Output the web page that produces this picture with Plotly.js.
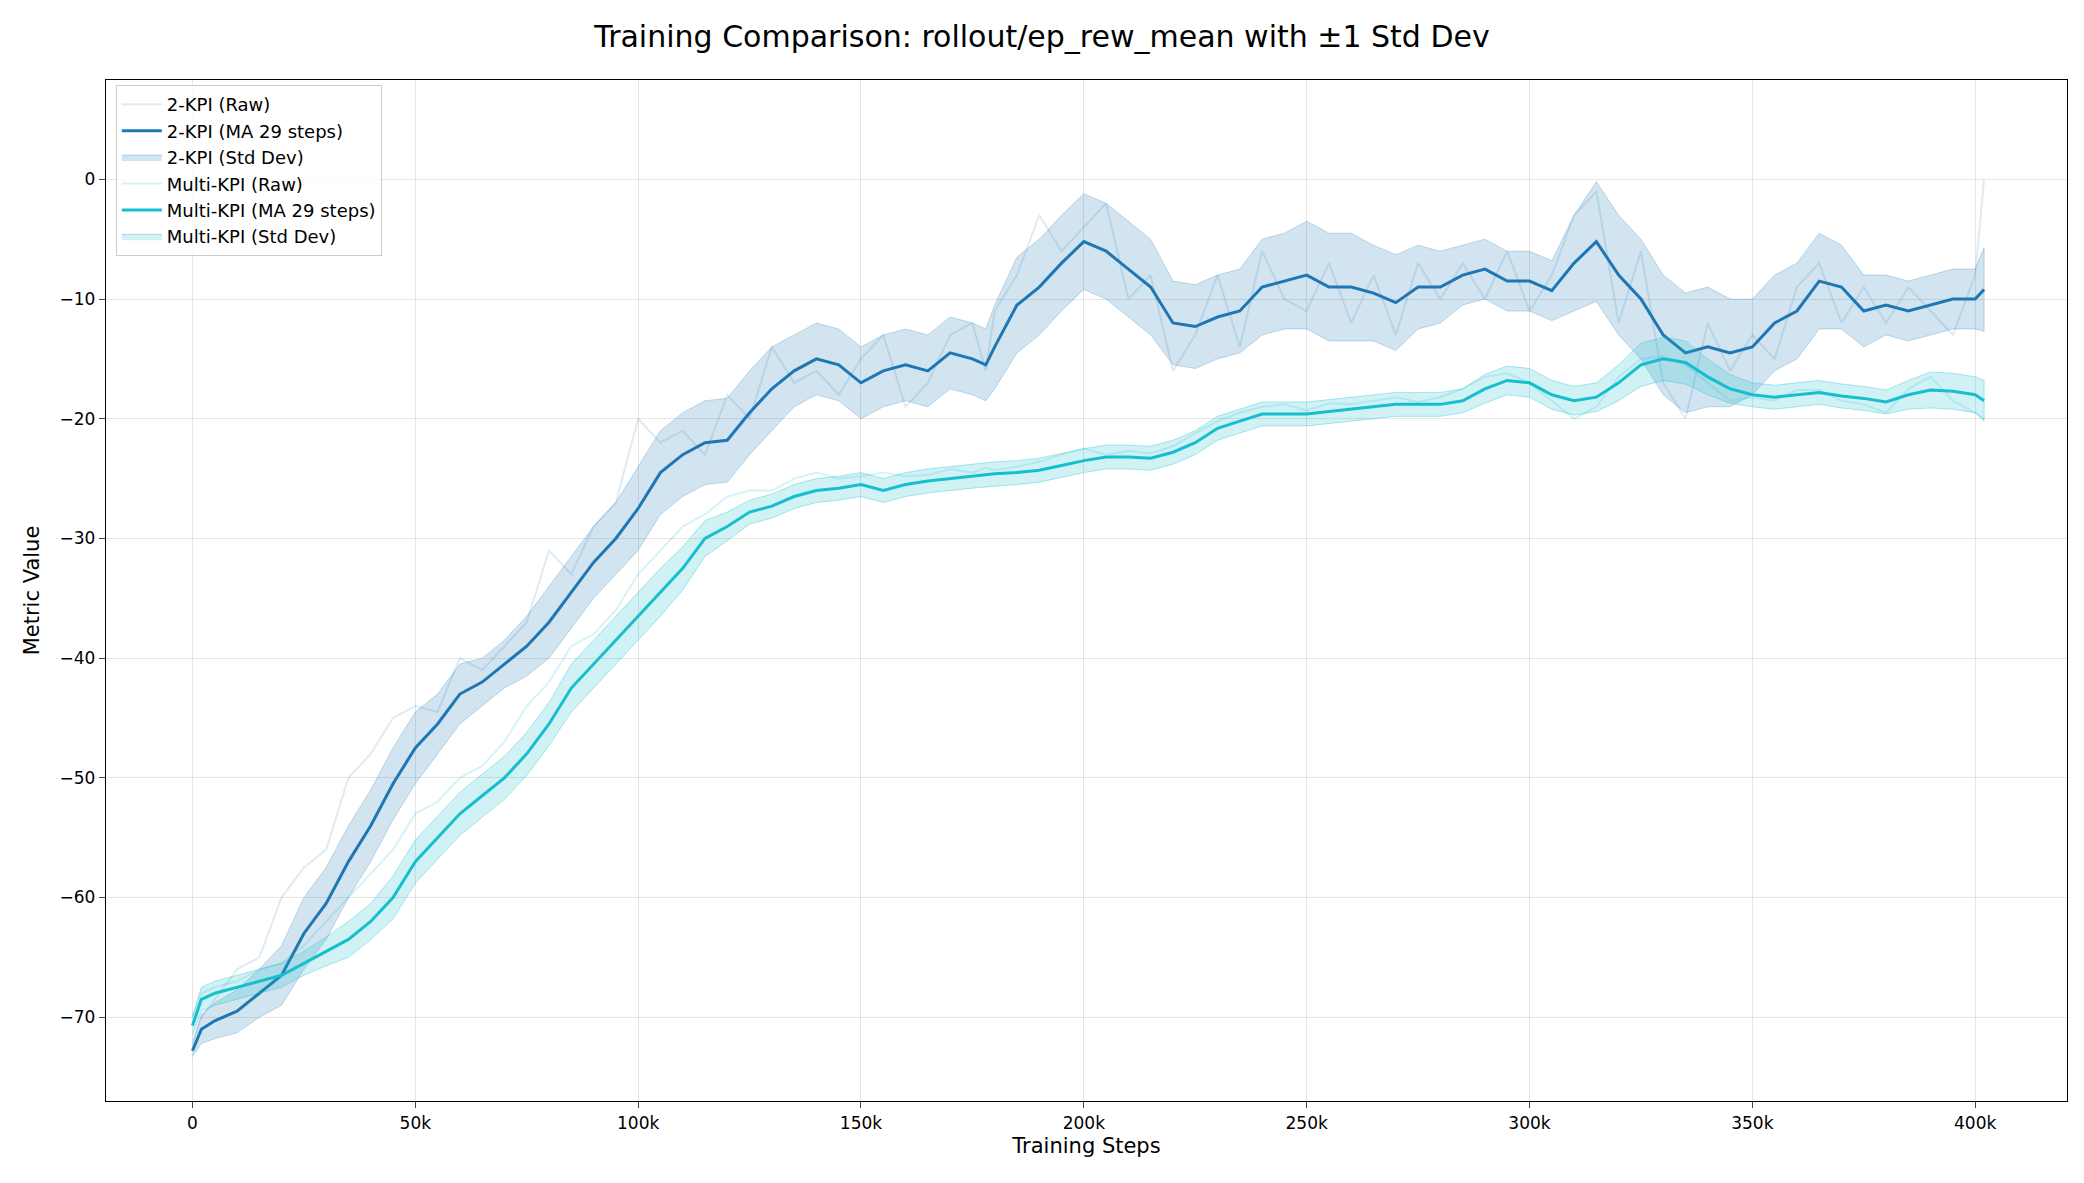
<!DOCTYPE html>
<html>
<head>
<script src="https://cdn.plot.ly/plotly-3.0.1.min.js"></script>
<style>body{margin:0;background:#fff}#chart{width:2084px;height:1183px}</style>
</head>
<body>
<div id="chart"></div>
<script>
// training steps (k) at which values were read
const steps = [0,2,5,10,15,20,25,30,35,40,45,50,55,60,65,70,75,80,85,90,95,100,105,110,115,120,125,130,135,140,145,150,155,160,165,170,175,178,180,185,190,195,200,205,210,215,220,225,230,235,240,245,250,255,260,265,270,275,280,285,290,295,300,305,310,315,320,325,330,335,340,345,350,355,360,365,370,375,380,385,390,395,400,402];

const kpi2Ma = [-72.8,-71,-70.3,-69.5,-68,-66.5,-63,-60.5,-57,-54,-50.5,-47.5,-45.5,-43,-42,-40.5,-39,-37,-34.5,-32,-30,-27.5,-24.5,-23,-22,-21.8,-19.5,-17.5,-16,-15,-15.5,-17,-16,-15.5,-16,-14.5,-15,-15.5,-14,-10.5,-9,-7,-5.2,-6,-7.5,-9,-12,-12.3,-11.5,-11,-9,-8.5,-8,-9,-9,-9.5,-10.3,-9,-9,-8,-7.5,-8.5,-8.5,-9.3,-7,-5.2,-8,-10,-13,-14.5,-14,-14.5,-14,-12,-11,-8.5,-9,-11,-10.5,-11,-10.5,-10,-10,-9.2];
const kpi2Std = [0.5,1.2,1.5,1.8,2,2.5,3,3,3,3,3,3,2.5,2.5,2,2,2.5,3,3,3,3,3.5,3.5,3.5,3.5,3.5,3.5,3.5,3,3,3,3,3,3,3,3,3,3,3.5,4,4,4,4,4,4,4,3.5,3.5,3.5,3.5,4,4,4.5,4.5,4.5,4,4,3.5,3,2.5,2.5,2.5,2.5,2.5,4,5,5,5,5,5,5,4.5,4,4,4,4,3.5,3,2.5,2.5,2.5,2.5,2.5,3.5];
const kpi2Raw = [-72,-70,-68.5,-66,-65,-60,-57.5,-56,-50,-48,-45,-44,-44.5,-40,-41,-39,-37,-31,-33,-29,-27,-20,-22,-21,-23,-18,-20,-14,-17,-16,-18,-15,-13,-19,-17,-13,-12,-16,-11,-8,-3,-6,-4,-2,-10,-8,-16,-13,-8,-14,-6,-10,-11,-7,-12,-8,-13,-7,-10,-7,-10,-6,-11,-8,-3,-1,-12,-6,-17,-20,-12,-16,-13,-15,-9,-7,-12,-9,-12,-9,-11,-13,-8,0];

const multiMa = [-70.7,-68.5,-68,-67.5,-67,-66.5,-65.5,-64.5,-63.5,-62,-60,-57,-55,-53,-51.5,-50,-48,-45.5,-42.5,-40.5,-38.5,-36.5,-34.5,-32.5,-30,-29,-27.8,-27.3,-26.5,-26,-25.8,-25.5,-26,-25.5,-25.2,-25,-24.8,-24.7,-24.6,-24.5,-24.3,-23.9,-23.5,-23.2,-23.2,-23.3,-22.8,-22,-20.8,-20.2,-19.6,-19.6,-19.6,-19.4,-19.2,-19,-18.8,-18.8,-18.8,-18.5,-17.5,-16.8,-17,-18,-18.5,-18.2,-17,-15.5,-15,-15.3,-16.5,-17.5,-18,-18.2,-18,-17.8,-18.1,-18.3,-18.6,-18,-17.6,-17.7,-18,-18.5];
const multiStd = [0.8,1,1,1,1,1,1,1.2,1.5,1.5,1.8,1.8,1.8,1.8,1.8,1.8,1.8,1.8,2,2,2,2,2,1.8,1.5,1.2,1,1,1,1,1,1,1,1,1,1,1,1,1,1,1,1,1,1,1,1,1,1,1,1,1,1,1,1,1,1,1,1,1,1,1.2,1.2,1.2,1.2,1.2,1.2,1.5,1.8,1.8,1.8,1.5,1.2,1,1,1,1,1,1,1,1.2,1.5,1.5,1.5,1.7];
const multiRaw = [-70,-68,-67.5,-67,-66,-65.5,-64,-62,-60,-58,-56,-53,-52,-50,-49,-47,-44,-42,-39,-38,-36,-33,-31,-29,-28,-26.5,-26,-26,-25,-24.5,-25,-24.8,-24.5,-24.8,-24.7,-24.2,-24.5,-24.1,-24.3,-24,-23.6,-23,-22.5,-23,-22.7,-22.9,-22.3,-21.2,-20.2,-19.5,-19,-18.8,-19.3,-18.7,-18.8,-18.5,-18.2,-18.6,-18.2,-17.5,-16.5,-16.2,-17,-18.5,-20,-19,-16.5,-15,-14.8,-15.5,-17,-18.5,-18.2,-18.5,-17.6,-17.6,-18.5,-18.8,-19.5,-17.5,-16.5,-18.5,-19.5,-20];

const xs = steps.map(s => s * 1000);
const blue = '#1f77b4', cyan = '#17becf';

function band(ma, sd, name, color, fill) {
    const up = ma.map((v, i) => v + sd[i]);
    const lo = ma.map((v, i) => v - sd[i]).reverse();
    return {
        x: xs.concat(xs.slice().reverse()), y: up.concat(lo),
        type: 'scatter', mode: 'lines', fill: 'toself', fillcolor: fill,
        line: {color: color, width: 1}, name: name, hoverinfo: 'skip'
    };
}

const data = [
    {x: xs, y: kpi2Raw, type: 'scatter', mode: 'lines', name: '2-KPI (Raw)', line: {color: 'rgba(31,119,180,0.15)', width: 2}},
    {x: xs, y: kpi2Ma, type: 'scatter', mode: 'lines', name: '2-KPI (MA 29 steps)', line: {color: blue, width: 3}},
    band(kpi2Ma, kpi2Std, '2-KPI (Std Dev)', 'rgba(31,119,180,0.25)', 'rgba(31,119,180,0.2)'),
    {x: xs, y: multiRaw, type: 'scatter', mode: 'lines', name: 'Multi-KPI (Raw)', line: {color: 'rgba(23,190,207,0.18)', width: 2}},
    {x: xs, y: multiMa, type: 'scatter', mode: 'lines', name: 'Multi-KPI (MA 29 steps)', line: {color: cyan, width: 3}},
    band(multiMa, multiStd, 'Multi-KPI (Std Dev)', 'rgba(23,190,207,0.35)', 'rgba(23,190,207,0.2)')
];

const font = 'DejaVu Sans, sans-serif';
const layout = {
    width: 2084, height: 1183,
    margin: {l: 106, r: 17, t: 80, b: 82},
    font: {family: font, size: 17, color: '#000'},
    title: {text: 'Training Comparison: rollout/ep_rew_mean with ±1 Std Dev', font: {size: 30}, x: 0.5, y: 0.978, yanchor: 'top'},
    showlegend: true,
    legend: {x: 0.005, y: 0.995, xanchor: 'left', yanchor: 'top', bgcolor: 'rgba(255,255,255,0.8)', bordercolor: '#ccc', borderwidth: 1, font: {size: 18}, traceorder: 'normal', itemwidth: 40},
    xaxis: {
        title: {text: 'Training Steps', font: {size: 21}, standoff: 6},
        range: [-19400, 420600], tickvals: [0,50000,100000,150000,200000,250000,300000,350000,400000],
        ticktext: ['0','50k','100k','150k','200k','250k','300k','350k','400k'],
        showgrid: true, gridcolor: 'rgba(0,0,0,0.1)', zeroline: false,
        showline: true, mirror: true, linecolor: '#000', linewidth: 1.3, ticks: 'outside', ticklen: 6
    },
    yaxis: {
        title: {text: 'Metric Value', font: {size: 21}, standoff: 14},
        range: [-77, 8.3], tickvals: [-70,-60,-50,-40,-30,-20,-10,0],
        ticktext: ['−70','−60','−50','−40','−30','−20','−10','0'],
        showgrid: true, gridcolor: 'rgba(0,0,0,0.1)', zeroline: false,
        showline: true, mirror: true, linecolor: '#000', linewidth: 1.3, ticks: 'outside', ticklen: 6
    },
    plot_bgcolor: '#fff', paper_bgcolor: '#fff'
};

Plotly.newPlot('chart', data, layout, {displayModeBar: false});
</script>
</body>
</html>
